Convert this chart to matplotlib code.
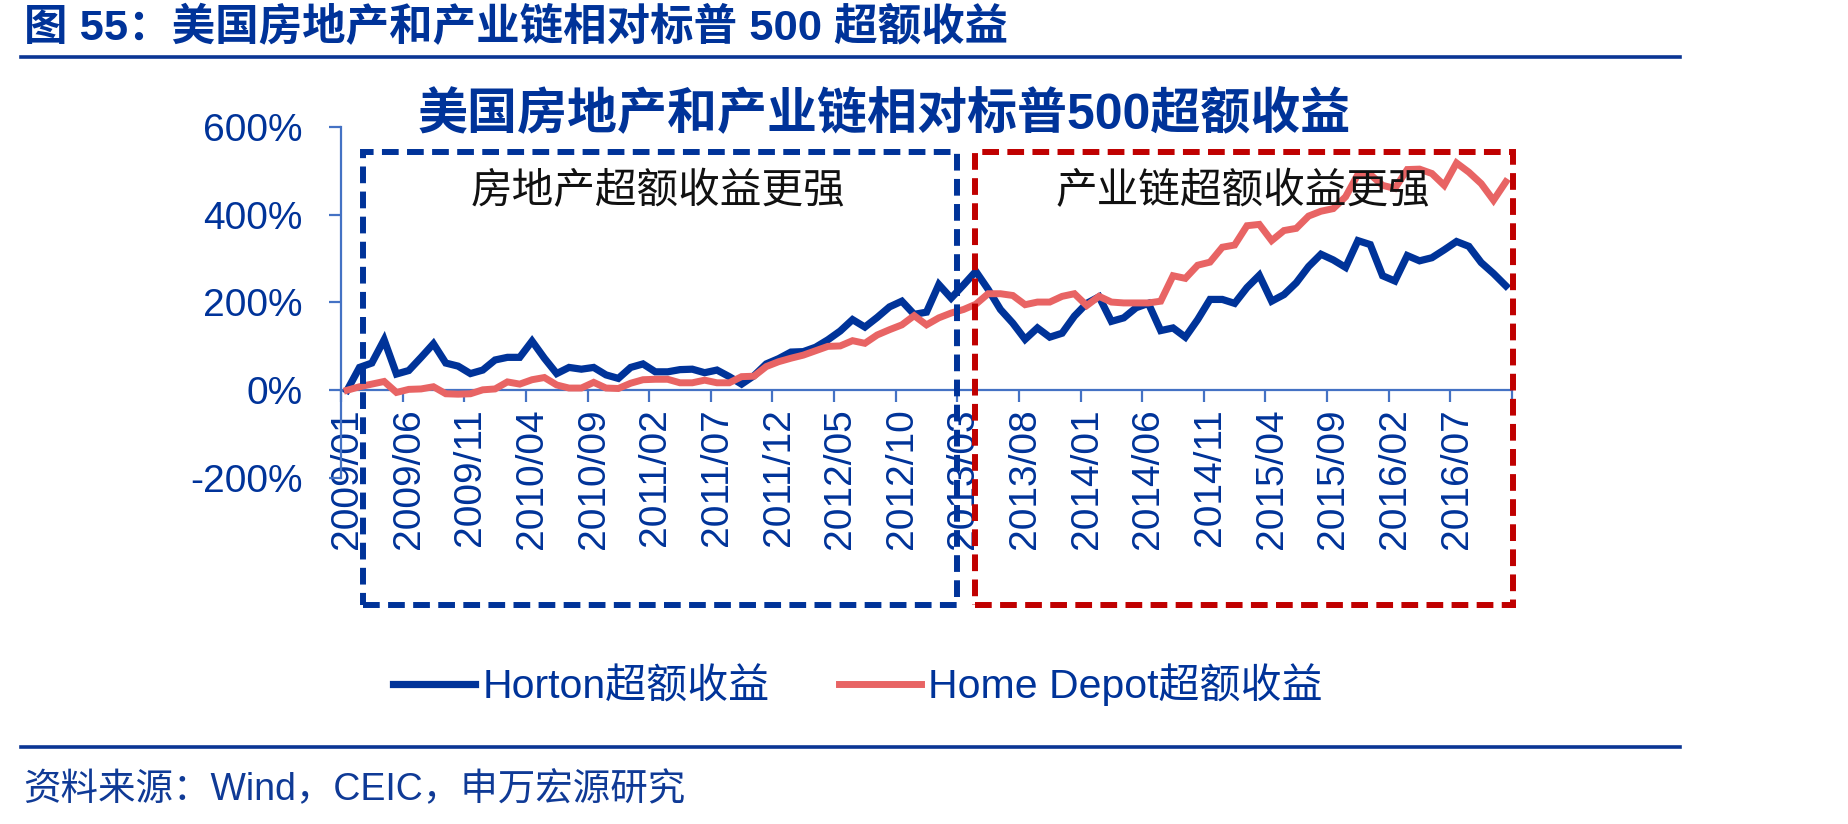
import matplotlib.pyplot as plt
from matplotlib.patches import Rectangle
from matplotlib.lines import Line2D

# 月度数据 2009/01 - 2016/11，相对标普500超额收益(%)
horton = [0, 52, 62, 115, 37, 45, 75, 106, 62, 55,
          38, 46, 69, 75, 75, 112, 73, 38, 52, 48,
          52, 35, 27, 52, 60, 42, 42, 47, 48, 40,
          46, 31, 14, 33, 60, 72, 87, 88, 98, 115,
          135, 161, 144, 166, 190, 203, 173, 178, 241, 210,
          240, 271, 230, 184, 153, 116, 142, 121, 130, 169,
          198, 213, 157, 165, 188, 198, 136, 142, 121, 161,
          207, 207, 198, 234, 262, 203, 218, 245, 282, 310,
          297, 280, 341, 332, 261, 249, 307, 295, 302, 320,
          339, 328, 291, 266, 238]

home_depot = [0, 8, 14, 20, -5, 2, 3, 8, -8, -9,
              -8, 1, 3, 19, 14, 24, 29, 12, 5, 5,
              18, 5, 4, 16, 24, 25, 25, 17, 17, 23,
              17, 17, 31, 32, 54, 65, 73, 80, 90, 100,
              101, 113, 107, 126, 138, 149, 170, 149, 165, 176,
              184, 196, 220, 220, 216, 195, 201, 201, 214, 220,
              193, 214, 201, 199, 199, 199, 203, 261, 255, 285,
              292, 326, 331, 375, 378, 341, 364, 369, 397, 408,
              414, 441, 492, 492, 467, 460, 503, 504, 494, 467,
              518, 497, 471, 433, 475]

tick_labels = ['2009/01', '2009/06', '2009/11', '2010/04', '2010/09',
               '2011/02', '2011/07', '2011/12', '2012/05', '2012/10',
               '2013/03', '2013/08', '2014/01', '2014/06', '2014/11',
               '2015/04', '2015/09', '2016/02', '2016/07']

y_ticks = [-200, 0, 200, 400, 600]

series_names = ['Horton超额收益', 'Home Depot超额收益']

NAVY = '#003399'
RED = '#E86464'
AXIS = '#4472C4'
FONTS = ['Liberation Sans', 'Noto Sans CJK SC']

plt.rcParams['font.family'] = FONTS

W, H = 1849, 824
fig = plt.figure(figsize=(W / 100, H / 100), dpi=100)


def fx(px):
    return px / W


def fy(py):
    return 1 - py / H


# 绘图区
ax = fig.add_axes([fx(341), fy(478), fx(1512) - fx(341), fy(127) - fy(478)])
x = list(range(len(horton)))
ax.plot(x, horton, color=NAVY, lw=5.2, zorder=3, solid_joinstyle='miter',
        label=series_names[0])
ax.plot(x, home_depot, color=RED, lw=5.0, zorder=3, solid_joinstyle='miter',
        label=series_names[1])

ax.set_xlim(-0.5, len(horton) - 0.5)
ax.set_ylim(-200, 600)

for s in ['top', 'right']:
    ax.spines[s].set_visible(False)
ax.spines['bottom'].set_position(('data', 0))
for s in ['left', 'bottom']:
    ax.spines[s].set_color(AXIS)
    ax.spines[s].set_linewidth(1.6)

# 刻度在类别边界，标签在类别中心
ax.set_xticks([i - 0.5 for i in range(0, len(horton) + 1, 5)])
ax.set_xticklabels([])
ax.set_xticks(list(range(0, len(horton), 5)), minor=True)
ax.set_xticklabels(tick_labels, minor=True, rotation=90, fontsize=28, color=NAVY)
ax.tick_params(axis='x', which='major', direction='out', length=8.6, width=1.6, color=AXIS)
ax.tick_params(axis='x', which='minor', length=0, pad=13)

ax.set_yticks(y_ticks)
ax.set_yticklabels([f'{v}%' for v in y_ticks], fontsize=28, color=NAVY)
ax.tick_params(axis='y', direction='out', length=8.6, width=1.6, color=AXIS, pad=19)

leg = ax.legend(loc='center', bbox_to_anchor=(fx(858), fy(685)), bbox_transform=fig.transFigure,
                ncol=2, frameon=False, handlelength=2.0, handletextpad=0.17,
                columnspacing=1.7, fontsize=29.5)
for t in leg.get_texts():
    t.set_color(NAVY)

# 标题与分隔线
fig.text(fx(24), fy(28), '图 55：美国房地产和产业链相对标普 500 超额收益', fontsize=31.3,
         fontweight='bold', color=NAVY, ha='left', va='center')
fig.add_artist(Line2D([fx(21), fx(1680)], [fy(57), fy(57)], color='#0A3594', lw=2.6))
fig.text(fx(884), fy(114), '美国房地产和产业链相对标普500超额收益', fontsize=36,
         fontweight='bold', color=NAVY, ha='center', va='center')

# 虚线框
dash = (0, (2.8, 1.4))
fig.add_artist(Rectangle((fx(363), fy(605)), fx(957) - fx(363), fy(152) - fy(605),
                         fill=False, ec=NAVY, lw=4.3, ls=dash, zorder=5))
fig.add_artist(Rectangle((fx(975), fy(605)), fx(1513) - fx(975), fy(152) - fy(605),
                         fill=False, ec='#C00000', lw=4.3, ls=dash, zorder=5))
fig.text(fx(658), fy(192), '房地产超额收益更强', fontsize=30, color='#111111',
         ha='center', va='center', family='Noto Sans CJK SC', fontweight='medium')
fig.text(fx(1243), fy(192), '产业链超额收益更强', fontsize=30, color='#111111',
         ha='center', va='center', family='Noto Sans CJK SC', fontweight='medium')

fig.add_artist(Line2D([fx(21), fx(1680)], [fy(747), fy(747)], color='#0A3594', lw=2.6))
fig.text(fx(23), fy(790), '资料来源：Wind，CEIC，申万宏源研究', fontsize=27,
         color='#0F3A96', ha='left', va='center')

fig.savefig('out.png', dpi=100)
